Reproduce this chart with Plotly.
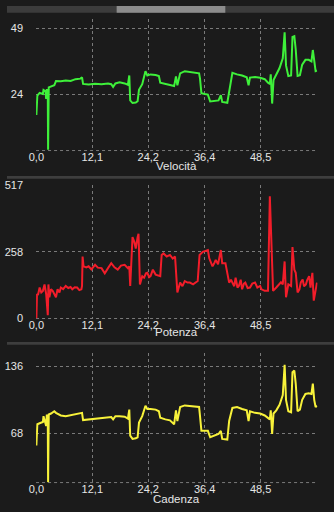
import plotly.graph_objects as go

# ---------------- data ----------------
vel_x = [0.0, 0.21, 0.71, 1.41, 1.55, 1.98, 2.12, 2.26, 2.47, 2.54, 2.68, 3.18, 3.88, 4.24, 5.29, 6.35,
         7.41, 8.47, 9.53, 9.88, 10.1, 11.3, 12.7, 14.1, 15.5, 16.2, 16.6, 17.1, 18.0, 19.1, 19.8, 20.1,
         20.3, 20.8, 21.5, 21.9, 22.2, 22.9, 23.6, 24.0, 24.7, 25.8, 26.5, 26.8, 27.9, 28.9, 29.8, 30.2,
         30.5, 31.1, 32.1, 33.2, 34.2, 35.2, 35.4, 35.7, 36.4, 37.1, 37.6, 38.5, 39.4, 39.9, 40.2, 41.3,
         41.7, 42.4, 43.4, 44.5, 45.5, 45.9, 46.2, 47.3, 48.4, 49.4, 50.1, 50.5, 50.7, 51.0, 51.3, 51.9,
         52.6, 53.3, 53.7, 54.0, 54.5, 55.1, 55.4, 55.8, 56.1, 56.5, 57.0, 57.5, 58.2, 58.9, 59.5, 59.8,
         60.1, 60.4, 60.7]
vel_y = [16.3, 23.6, 24.6, 24.2, 25.7, 25.2, 22.4, 26.1, 24.5, 3.2, 26.7, 27.0, 27.5, 29.1, 29.0, 29.3,
         29.1, 29.8, 30.0, 30.5, 28.0, 27.8, 28.1, 27.9, 28.2, 27.9, 26.9, 28.2, 28.6, 28.2, 27.7, 31.2,
         21.8, 20.8, 21.0, 21.5, 25.8, 27.9, 32.8, 31.2, 31.6, 31.4, 31.0, 28.5, 27.9, 27.6, 27.2, 30.8,
         27.5, 32.0, 32.8, 32.6, 32.3, 32.0, 30.0, 24.5, 24.2, 24.0, 21.4, 21.6, 21.8, 23.8, 21.2, 20.9,
         25.5, 32.2, 31.6, 31.2, 30.5, 27.5, 30.4, 30.6, 30.3, 29.8, 28.5, 28.0, 31.6, 20.6, 29.5, 31.6,
         34.0, 37.7, 47.5, 35.0, 31.0, 31.2, 45.7, 46.0, 41.0, 31.0, 31.3, 35.3, 37.1, 37.1, 36.5, 40.8,
         35.5, 32.8, 33.0]

pot_x = [0.0, 0.14, 0.35, 0.71, 1.06, 1.41, 1.77, 2.12, 2.47, 2.61, 2.82, 3.18, 3.53, 3.9, 4.24, 4.59,
         5.0, 5.29, 5.8, 6.35, 6.9, 7.4, 7.77, 8.3, 8.82, 9.3, 9.74, 9.88, 10.0, 10.2, 10.8, 11.3, 11.9,
         12.7, 13.3, 14.1, 14.8, 15.5, 16.2, 16.9, 17.6, 18.3, 19.1, 19.8, 20.1, 20.3, 20.8, 21.2, 21.5,
         21.9, 22.1, 22.4, 22.9, 23.3, 23.7, 24.0, 24.4, 24.7, 25.2, 25.8, 26.5, 26.8, 27.1, 27.5, 28.2,
         28.9, 29.5, 30.0, 30.5, 31.1, 31.6, 32.1, 32.7, 33.2, 33.9, 34.6, 34.9, 35.3, 36.0, 36.6, 37.1,
         37.4, 38.1, 38.5, 38.8, 39.3, 39.9, 40.2, 40.9, 41.7, 42.1, 42.4, 42.8, 43.1, 43.5, 43.8, 44.2,
         44.5, 44.9, 45.2, 45.7, 46.2, 46.7, 47.3, 47.8, 48.4, 48.7, 49.4, 50.1, 50.5, 50.8, 51.2, 51.9,
         52.4, 52.9, 53.3, 53.7, 54.0, 54.5, 55.1, 55.4, 55.8, 56.1, 56.5, 56.9, 57.2, 57.6, 57.9, 58.3,
         58.6, 59.0, 59.3, 59.7, 60.0, 60.4, 60.7]
pot_y = [0, 95, 91, 120, 101, 107, 132, 95, 13, 132, 82, 113, 107, 95, 82, 113, 101, 120, 114, 126,
         118, 122, 113, 121, 120, 110, 113, 126, 240, 202, 198, 202, 190, 208, 197, 195, 175, 195, 214,
         198, 189, 205, 208, 195, 202, 126, 315, 296, 271, 315, 328, 132, 164, 158, 175, 177, 160, 164,
         189, 170, 164, 164, 246, 252, 240, 246, 232, 240, 101, 139, 125, 145, 139, 139, 132, 139, 145,
         246, 258, 262, 265, 233, 202, 215, 227, 210, 265, 214, 214, 139, 150, 139, 125, 158, 120, 126,
         150, 113, 135, 139, 118, 120, 135, 139, 120, 126, 113, 107, 107, 473, 315, 107, 120, 132, 140,
         132, 221, 82, 132, 126, 277, 189, 177, 101, 113, 140, 151, 125, 132, 150, 164, 120, 177, 69,
         120, 139]

cad_x = vel_x
cad_y = [55.3, 77.0, 78.0, 79.3, 85.3, 78.0, 75.3, 87.0, 80.0, 17.5, 87.0, 88.0, 90.3, 88.7, 86.0,
         85.3, 86.3, 86.7, 88.0, 88.7, 81.3, 82.0, 82.7, 83.7, 84.0, 84.3, 82.0, 85.3, 85.3, 84.7,
         82.7, 92.0, 65.3, 62.0, 62.7, 63.7, 78.7, 85.3, 96.0, 92.7, 92.7, 92.0, 90.3, 83.7, 82.0,
         81.0, 77.0, 91.3, 80.3, 94.7, 96.3, 96.0, 95.3, 94.7, 85.3, 70.3, 70.3, 70.3, 63.7, 65.3,
         67.0, 70.3, 62.0, 61.3, 80.3, 93.7, 94.7, 92.7, 91.3, 80.3, 90.3, 88.7, 88.0, 86.0, 83.7,
         82.0, 91.3, 67.0, 88.0, 91.3, 97.0, 107.0, 138.0, 102.0, 90.3, 89.3, 130.3, 132.0, 118.7,
         90.3, 92.0, 102.0, 108.0, 108.7, 108.0, 118.7, 102.0, 94.7, 96.0]

x_tickvals = [0, 12.1, 24.2, 36.4, 48.5]
x_ticktext = ["0,0", "12,1", "24,2", "36,4", "48,5"]

panels = [
    dict(name="Velocità", x=vel_x, y=vel_y, color="#3ef03a",
         yticks=[24, 49], ylabels=["24", "49"], yrange=[2.9, 52.6],
         dom=[1 - 148 / 512, 1 - 13 / 512], title_y=164),
    dict(name="Potenza", x=pot_x, y=pot_y, color="#f21d2a",
         yticks=[0, 258, 517], ylabels=["0", "258", "517"], yrange=[0, 518],
         dom=[1 - 320 / 512, 1 - 183 / 512], title_y=334),
    dict(name="Cadenza", x=cad_x, y=cad_y, color="#f8f23a",
         yticks=[68, 136], ylabels=["68", "136"], yrange=[17.3, 150.3],
         dom=[1 - 488 / 512, 1 - 355 / 512], title_y=504.5),
]

BG = "#1b1b1b"
GRID = "#7a7a7a"
TXT = "#e6e6e6"
FONT = "Liberation Sans, Arial, sans-serif"

fig = go.Figure()
layout = dict(
    width=334, height=512, margin=dict(l=0, r=0, t=0, b=0),
    paper_bgcolor=BG, plot_bgcolor=BG, showlegend=False,
    font=dict(family=FONT, color=TXT, size=11),
)

shapes = []
annotations = []
for i, p in enumerate(panels, start=1):
    sfx = "" if i == 1 else str(i)
    fig.add_trace(go.Scatter(x=p["x"], y=p["y"], mode="lines",
                             line=dict(color=p["color"], width=2),
                             xaxis="x" + sfx, yaxis="y" + sfx, hoverinfo="skip"))
    layout["xaxis" + sfx] = dict(
        domain=[29.7 / 334, 317.1 / 334], range=[-0.06, 60.8], anchor="y" + sfx,
        tickmode="array", tickvals=x_tickvals, ticktext=x_ticktext,
        showgrid=True, gridcolor=GRID, griddash="dot", gridwidth=1,
        zeroline=False, showline=False, ticks="", ticklabelstandoff=-2,
        tickfont=dict(size=11, color=TXT, family=FONT),
    )
    layout["yaxis" + sfx] = dict(
        domain=p["dom"], range=p["yrange"], anchor="x" + sfx,
        tickmode="array", tickvals=p["yticks"], ticktext=p["ylabels"],
        showgrid=True, gridcolor=GRID, griddash="dot", gridwidth=1,
        zeroline=False, showline=False, ticks="", ticklabelstandoff=12,
        tickfont=dict(size=11, color=TXT, family=FONT),
    )
    # dotted baseline along the bottom of each plot area
    shapes.append(dict(type="line", xref="x" + sfx + " domain", yref="y" + sfx + " domain",
                       x0=0, x1=1, y0=0, y1=0, line=dict(color=GRID, width=1, dash="dot"),
                       layer="below"))
    annotations.append(dict(text=p["name"], xref="paper", yref="paper",
                            x=173.5 / 334, y=1 - p["title_y"] / 512, xanchor="center",
                            yanchor="middle", showarrow=False,
                            font=dict(size=11.5, color=TXT, family=FONT)))

shapes += [
    dict(type="rect", xref="paper", yref="paper", x0=0, x1=1, y0=1 - 7 / 512, y1=1,
         fillcolor="#3c3c3c", line=dict(width=0), layer="above"),
    dict(type="rect", xref="paper", yref="paper", x0=112 / 334, x1=223 / 334, y0=1 - 7 / 512, y1=1,
         fillcolor="#8c8c8c", line=dict(width=0), layer="above"),
    dict(type="rect", xref="paper", yref="paper", x0=0, x1=1, y0=1 - 177 / 512, y1=1 - 174 / 512,
         fillcolor="#3e3e3e", line=dict(width=0), layer="above"),
    dict(type="rect", xref="paper", yref="paper", x0=0, x1=1, y0=1 - 347 / 512, y1=1 - 344 / 512,
         fillcolor="#3e3e3e", line=dict(width=0), layer="above"),
]
layout["shapes"] = shapes
layout["annotations"] = annotations
fig.update_layout(**layout)
fig.write_html("out.html")
